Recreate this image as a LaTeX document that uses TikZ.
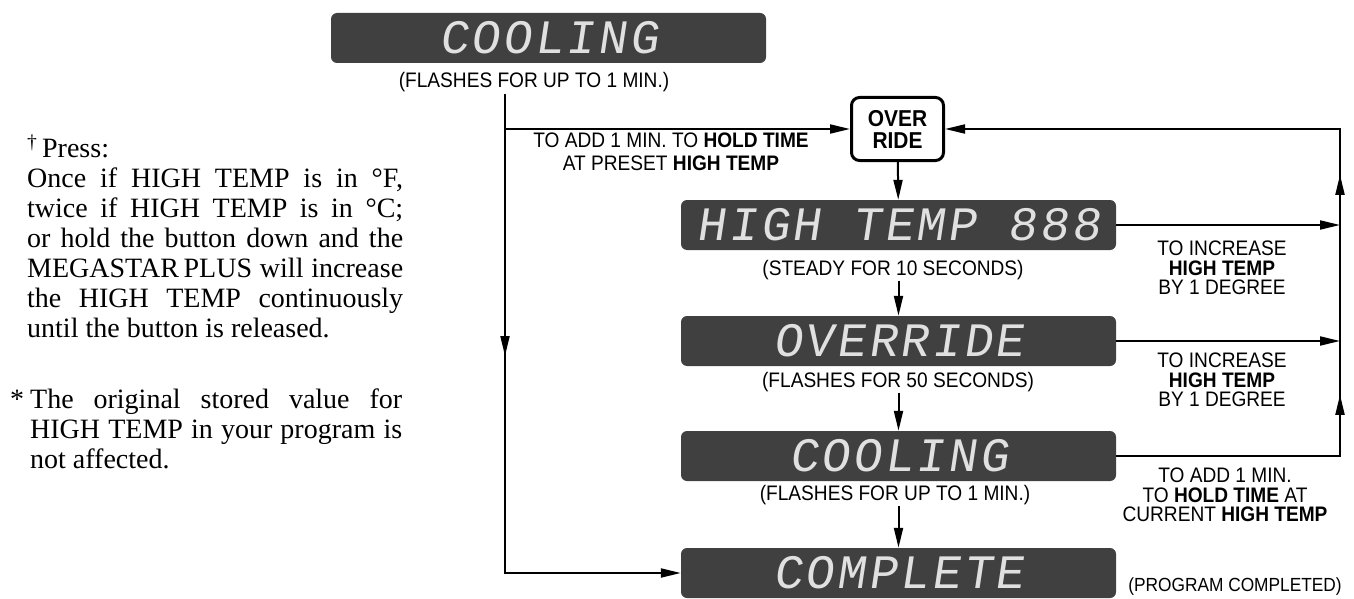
\documentclass[tikz,border=0pt]{standalone}
\usepackage{fontspec}
\setmainfont{Liberation Serif}
\setsansfont{Liberation Sans}[FakeStretch=0.91]
\newfontfamily\lcdfont{Liberation Mono}[LetterSpace=6,FakeSlant=0.15]
\usepackage{tikz}
\usetikzlibrary{arrows.meta,decorations.markings}
\definecolor{lcdgray}{HTML}{404040}

\begin{document}
\begin{tikzpicture}[x=1pt, y=-1pt,
    lcd/.style={rectangle, fill=lcdgray, rounded corners=6pt, minimum width=435pt, minimum height=50pt, inner sep=0pt, text=white!88!black, font=\lcdfont\fontsize{48}{48}\selectfont},
    dispcap/.style={font=\sffamily\fontsize{21}{21}\selectfont, inner sep=1pt},
    lbl/.style={font=\sffamily\fontsize{21}{19.5}\selectfont, align=center, inner sep=0pt},
    note/.style={font=\rmfamily\fontsize{28}{30}\selectfont, text width=376pt, align=justify, inner sep=0pt, anchor=north west},
    flow/.style={line width=2pt, -{Triangle[length=20pt,width=9pt]}},
    midtip/.style={postaction={decorate, decoration={markings, mark=at position #1 with {\arrow{Triangle[length=20pt,width=9pt]}}}}}]

    \useasboundingbox (0,0) rectangle (1354,599);

    % Notes on the left
    \node[note] (press) at (27,135) {\textsuperscript{\dag}\,Press:\\
        Once if HIGH TEMP is in °F,\linebreak twice if HIGH TEMP is in °C;\linebreak or hold the button down and the\linebreak MEGASTAR\,PLUS will increase\linebreak the HIGH TEMP continuously\linebreak until the button is released.};
    \node[note, text width=372pt] (stored) at (30,389) {\llap{*\hspace{6pt}}The original stored value for\linebreak HIGH TEMP in your program is\linebreak not affected.};

    % Top display
    \node[lcd] (cool1) at (548.5,38) {COOLING};
    \node[dispcap] (cap1) at (534,82) {(FLASHES FOR UP TO 1 MIN.)};

    % Override key
    \node[draw, line width=3pt, rounded corners=8pt, minimum width=92pt, minimum height=63pt, align=center, inner sep=0pt,
        font=\sffamily\bfseries\fontsize{23}{22}\selectfont] (override) at (897.5,129) {OVER\\RIDE};

    % Display sequence
    \node[lcd] (hightemp) at (898.5,225) {HIGH TEMP 888};
    \node[dispcap] (steady) at (893,270) {(STEADY FOR 10 SECONDS)};
    \node[lcd] (overdisp) at (898.5,341) {OVERRIDE};
    \node[dispcap] (flash50) at (898,382) {(FLASHES FOR 50 SECONDS)};
    \node[lcd] (cool2) at (898.5,456) {COOLING};
    \node[dispcap] (cap2) at (895,495) {(FLASHES FOR UP TO 1 MIN.)};
    \node[lcd] (complete) at (898.5,573) {COMPLETE};

    % Labels
    \node[lbl, font=\sffamily\fontsize{21}{23}\selectfont] (addhold) at (671,152) {TO ADD 1 MIN. TO \textbf{HOLD TIME}\\AT PRESET \textbf{HIGH TEMP}};
    \node[lbl] (inc1) at (1222,268) {TO INCREASE\\\textbf{HIGH TEMP}\\BY 1 DEGREE};
    \node[lbl] (inc2) at (1222,380) {TO INCREASE\\\textbf{HIGH TEMP}\\BY 1 DEGREE};
    \node[lbl] (addcur) at (1225,495) {TO ADD 1 MIN.\\TO \textbf{HOLD TIME} AT\\CURRENT \textbf{HIGH TEMP}};
    \node[dispcap, font=\sffamily\fontsize{19}{19}\selectfont] (done) at (1235,587) {(PROGRAM COMPLETED)};

    \coordinate (split) at (505,94);
    \coordinate (rail) at (1340,129);

    \draw[flow, midtip=262pt] (split) |- (complete.west);
    \draw[flow] (split |- override.west) -- (override.west);
    \draw[flow] (override) -- (hightemp);
    \draw[flow] (steady.south -| hightemp.south) -- (overdisp);
    \draw[flow] (flash50.south -| overdisp.south) -- (cool2);
    \draw[flow] (cap2.south -| cool2.south) -- (complete);
    \draw[flow] (hightemp.east) -- (hightemp.east -| rail);
    \draw[flow] (overdisp.east) -- (overdisp.east -| rail);
    \draw[flow, midtip=285pt, midtip=505pt] (cool2.east) -| (rail) -- (override.east);
\end{tikzpicture}
\end{document}
